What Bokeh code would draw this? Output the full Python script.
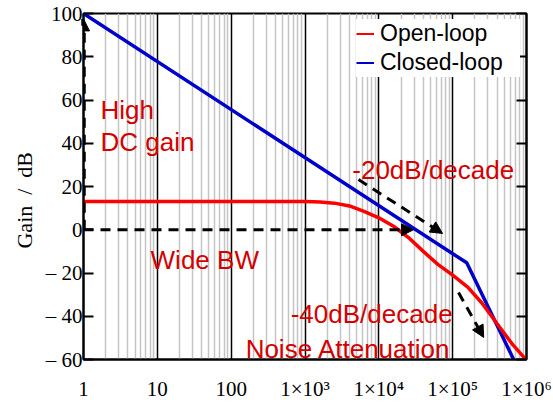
from bokeh.plotting import figure
from bokeh.models import (Range1d, FixedTicker, LinearAxis, Label, Arrow, NormalHead,
                          Legend, LegendItem, ColumnDataSource)
from bokeh.embed import file_html
from bokeh.resources import INLINE

# ---- data ----
closed_f = [1, 155000, 670000]
closed_db = [100, -15.3, -60]

open_f = [1, 100, 1000, 1600, 2500, 4000, 6300, 10000, 16000, 25000, 40000,
          63000, 100000, 160000, 250000, 400000, 630000, 980000]
open_db = [13.1, 13.1, 13.1, 12.8, 12.3, 11.0, 8.5, 5.5, 1.5, -3.5, -10,
           -16, -21, -26.5, -34, -43.5, -52.5, -60]

x_ticks = [1, 10, 100, 1000, 10000, 100000, 1000000]
x_tick_labels = ["1", "10", "100", "1\u00d710\u00b3", "1\u00d710\u2074",
                 "1\u00d710\u2075", "1\u00d710\u2076"]
y_ticks = [-60, -40, -20, 0, 20, 40, 60, 80, 100]
y_tick_labels = ["\u2013 60", "\u2013 40", "\u2013 20", "0", "20", "40", "60", "80", "100"]

legend_labels = ["Open-loop", "Closed-loop"]

annotations = [
    ("High", 1.70, 55.5),
    ("DC gain", 1.70, 40.5),
    ("-20dB/decade", 4370, 27.4),
    ("Wide BW", 8.1, -14.2),
    ("-40dB/decade", 640, -38.9),
    ("Noise Attenuation", 157, -55.0),
]

arrows = [  # x_start, y_start, x_end, y_end, width
    (1, 0, 29500, 0, 3),
    (1, 0, 1, 97.5, 4.5),
    (5300, 23.2, 73000, -1.7, 3),
    (120000, -29, 263000, -49.8, 3),
]

RED_LINE = "#ff0000"
BLUE_LINE = "#0000cc"
RED_TEXT = "#d40000"
SERIF = "Liberation Serif"
SANS = "Liberation Sans"

p = figure(width=553, height=403, x_axis_type="log",
           x_range=Range1d(1, 1e6), y_range=Range1d(-60, 100),
           output_backend="svg", toolbar_location=None,
           min_border_left=83, min_border_right=27, min_border_top=13, min_border_bottom=44)
p.background_fill_color = "white"
p.border_fill_color = "white"
p.outline_line_color = "black"
p.outline_line_width = 2

minor = []
for d in range(6):
    for m in range(2, 10):
        minor.append(m * 10 ** d)
xt = FixedTicker(ticks=x_ticks, minor_ticks=minor)
p.xaxis.ticker = xt
p.xgrid.ticker = xt
p.xgrid.grid_line_color = "black"
p.xgrid.grid_line_width = 1.5
p.xgrid.minor_grid_line_color = "#c4c4c4"
p.xgrid.minor_grid_line_width = 1.5
p.ygrid.grid_line_color = None

xa = p.xaxis[0]
xa.major_label_overrides = {t: l for t, l in zip(x_ticks, x_tick_labels)}
xa.major_tick_in = 0
xa.major_tick_out = 0
xa.minor_tick_in = 0
xa.minor_tick_out = 0
xa.axis_line_color = "black"
xa.axis_line_width = 2
xa.major_label_text_font = SERIF
xa.major_label_text_font_size = "21px"
xa.major_label_text_color = "black"
xa.major_label_standoff = 17

yt = FixedTicker(ticks=y_ticks, minor_ticks=[])
ya = p.yaxis[0]
ya.ticker = yt
ya.major_label_overrides = {t: l for t, l in zip(y_ticks, y_tick_labels)}
ya.major_tick_in = 10
ya.major_tick_out = 0
ya.major_tick_line_width = 2
ya.minor_tick_in = 0
ya.minor_tick_out = 0
ya.axis_line_color = "black"
ya.axis_line_width = 2
ya.major_label_text_font = SERIF
ya.major_label_text_font_size = "21px"
ya.major_label_text_color = "black"
ya.major_label_standoff = 1
ya.axis_label = "Gain\u00a0\u00a0/\u00a0\u00a0dB" + "\u00a0" * 5
ya.axis_label_text_font = SERIF
ya.axis_label_text_font_size = "22px"
ya.axis_label_text_font_style = "normal"
ya.axis_label_text_color = "black"
ya.axis_label_standoff = 6

ra = LinearAxis(ticker=yt, major_label_text_color=None, major_tick_in=10,
                major_tick_out=0, major_tick_line_width=2, minor_tick_in=0, minor_tick_out=0,
                axis_line_width=2, major_label_standoff=0)
p.add_layout(ra, "right")

# curves
p.line(closed_f, closed_db, line_color=BLUE_LINE, line_width=3.5)
p.line(open_f, open_db, line_color=RED_LINE, line_width=3.5)

# arrows
for xs, ys, xe, ye, w in arrows:
    p.add_layout(Arrow(x_start=xs, y_start=ys, x_end=xe, y_end=ye,
                       line_color="black", line_width=w, line_dash="10 7",
                       end=NormalHead(size=12, fill_color="black", line_color="black", line_width=1)))

for txt, x, y in annotations:
    p.add_layout(Label(x=x, y=y, text=txt, text_font=SANS, text_font_size="26px",
                       text_color=RED_TEXT, text_baseline="alphabetic", text_align="left"))

# legend with thin sample lines (sample data lies outside the visible range)
src = ColumnDataSource(data=dict(x=[1, 2], y=[-500, -500]))
r_open = p.line("x", "y", source=src, line_color=RED_LINE, line_width=2)
r_closed = p.line("x", "y", source=src, line_color=BLUE_LINE, line_width=2)
legend = Legend(items=[LegendItem(label=legend_labels[0], renderers=[r_open]),
                       LegendItem(label=legend_labels[1], renderers=[r_closed])],
                location="top_right", margin=6, padding=8, spacing=0,
                glyph_width=18, glyph_height=29, label_height=29, label_width=140,
                label_standoff=6,
                label_text_font=SANS, label_text_font_size="23px",
                label_text_color="black",
                background_fill_color="white", background_fill_alpha=1.0,
                border_line_color=None)
p.add_layout(legend)

open("out.html", "w").write(file_html(p, INLINE))
